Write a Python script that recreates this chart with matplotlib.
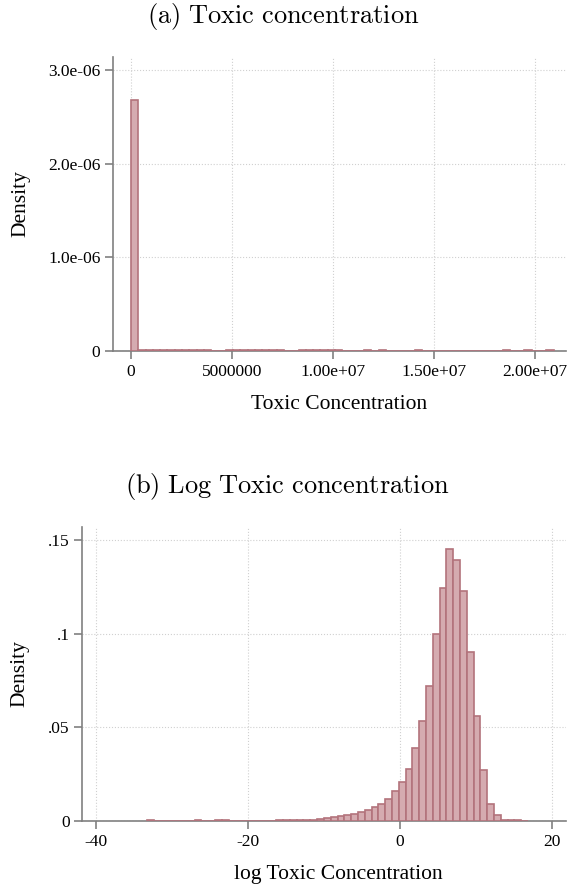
import matplotlib
matplotlib.use("Agg")
import matplotlib.pyplot as plt
from matplotlib.ticker import FixedLocator
import numpy as np

# (a) histogram of raw toxic concentration (density per bin)
raw_bin_start = 0.0
raw_bin_width = 361000.0
raw_density = [2.68e-06,
               8e-09, 8e-09, 8e-09, 8e-09, 8e-09, 8e-09, 8e-09, 8e-09, 8e-09, 8e-09,
               0, 0,
               8e-09, 8e-09, 8e-09, 8e-09, 8e-09, 8e-09, 8e-09, 8e-09,
               0, 0,
               8e-09, 8e-09, 8e-09, 8e-09, 8e-09, 8e-09,
               0, 0, 0,
               8e-09, 0, 8e-09,
               0, 0, 0, 0,
               8e-09,
               0, 0, 0, 0, 0, 0, 0, 0, 0, 0, 0,
               8e-09, 0, 0, 8e-09, 0, 0, 8e-09]
raw_yticks = [0, 1e-06, 2e-06, 3e-06]
raw_yticklabels = ["0", "1.0e-06", "2.0e-06", "3.0e-06"]
raw_xticks = [0, 5e6, 1e7, 1.5e7, 2e7]
raw_xticklabels = ["0", "5000000", "1.00e+07", "1.50e+07", "2.00e+07"]

# (b) histogram of log toxic concentration
log_bin_start = -0.18 - 37 * 0.894
log_bin_width = 0.894
log_density = [0.0003, 0, 0, 0, 0, 0, 0, 0.0003, 0, 0.0002,
               0.0003, 0.0003, 0.0002, 0.0002, 0.0002, 0.0002, 0.0002, 0.0002, 0.0002, 0.0003,
               0.0003, 0.0003, 0.0003,
               0.0003, 0.0006, 0.0012, 0.0017, 0.0022, 0.0028, 0.0033, 0.0040, 0.0049,
               0.0060, 0.0074, 0.0093, 0.0119, 0.0161,
               0.0207, 0.0277, 0.0391, 0.0533, 0.0720, 0.0997, 0.1245, 0.1451, 0.1396,
               0.1229, 0.0901, 0.0562, 0.0271, 0.0092, 0.0033, 0.0008, 0.0003, 0.0003, 0.0002]
log_yticks = [0, 0.05, 0.1, 0.15]
log_yticklabels = ["0", ".05", ".1", ".15"]
log_xticks = [-40, -20, 0, 20]
log_xticklabels = ["-40", "-20", "0", "20"]

plt.rcParams["mathtext.fontset"] = "cm"
serif = ["Liberation Serif", "DejaVu Serif"]
fill_c = "#d5abb0"
edge_c = "#b3737c"
axis_c = "#808080"


def style_axes(ax, xticks, xlabels, yticks, ylabels, xlabel):
    for s in ["top", "right"]:
        ax.spines[s].set_visible(False)
    for s in ["left", "bottom"]:
        ax.spines[s].set_color(axis_c)
        ax.spines[s].set_linewidth(1.2)
    ax.xaxis.set_major_locator(FixedLocator(xticks))
    ax.yaxis.set_major_locator(FixedLocator(yticks))
    ax.set_xticklabels(xlabels, fontfamily=serif, fontsize=12.5)
    ax.set_yticklabels(ylabels, fontfamily=serif, fontsize=12.5)
    ax.tick_params(direction="out", length=6, width=1.2, color=axis_c, pad=3)
    ax.grid(True, color="#d0d0d0", linestyle=":", linewidth=0.8)
    ax.set_axisbelow(True)
    ax.set_xlabel(xlabel, fontfamily=serif, fontsize=15.5)
    ax.set_ylabel("Density", fontfamily=serif, fontsize=15.5)


fig = plt.figure(figsize=(5.67, 8.86), dpi=100)

# panel (a)
ax1 = fig.add_axes([113 / 567, 1 - 351 / 886, 453 / 567, 294 / 886])
x1 = raw_bin_start + raw_bin_width * np.arange(len(raw_density))
ax1.bar(x1, raw_density, width=raw_bin_width, align="edge",
        color=fill_c, edgecolor=edge_c, linewidth=1.2, zorder=3)
ax1.set_xlim(-0.89e6, 2.155e7)
ax1.set_ylim(0, 3.14e-06)
style_axes(ax1, raw_xticks, raw_xticklabels, raw_yticks, raw_yticklabels,
           "Toxic Concentration")
ax1.xaxis.set_label_coords(0.5, -0.149)
ax1.yaxis.set_label_coords(-0.182, 0.5)
fig.text(0.5, 1 - 17 / 886, r"$\mathrm{(a)\ Toxic\ concentration}$",
         ha="center", va="center", fontsize=19)

# panel (b)
ax2 = fig.add_axes([82 / 567, 1 - 821 / 886, 484 / 567, 294 / 886])
x2 = log_bin_start + log_bin_width * np.arange(len(log_density))
ax2.bar(x2, log_density, width=log_bin_width, align="edge",
        color=fill_c, edgecolor=edge_c, linewidth=1.2, zorder=3)
ax2.set_xlim(-41.8, 21.8)
ax2.set_ylim(0, 0.157)
style_axes(ax2, log_xticks, log_xticklabels, log_yticks, log_yticklabels,
           "log Toxic Concentration")
ax2.xaxis.set_label_coords(0.529, -0.149)
ax2.yaxis.set_label_coords(-0.108, 0.5)
fig.text(0.507, 1 - 486 / 886, r"$\mathrm{(b)\ Log\ Toxic\ concentration}$",
         ha="center", va="center", fontsize=19)

fig.savefig("out.png", dpi=100)
plt.close(fig)
